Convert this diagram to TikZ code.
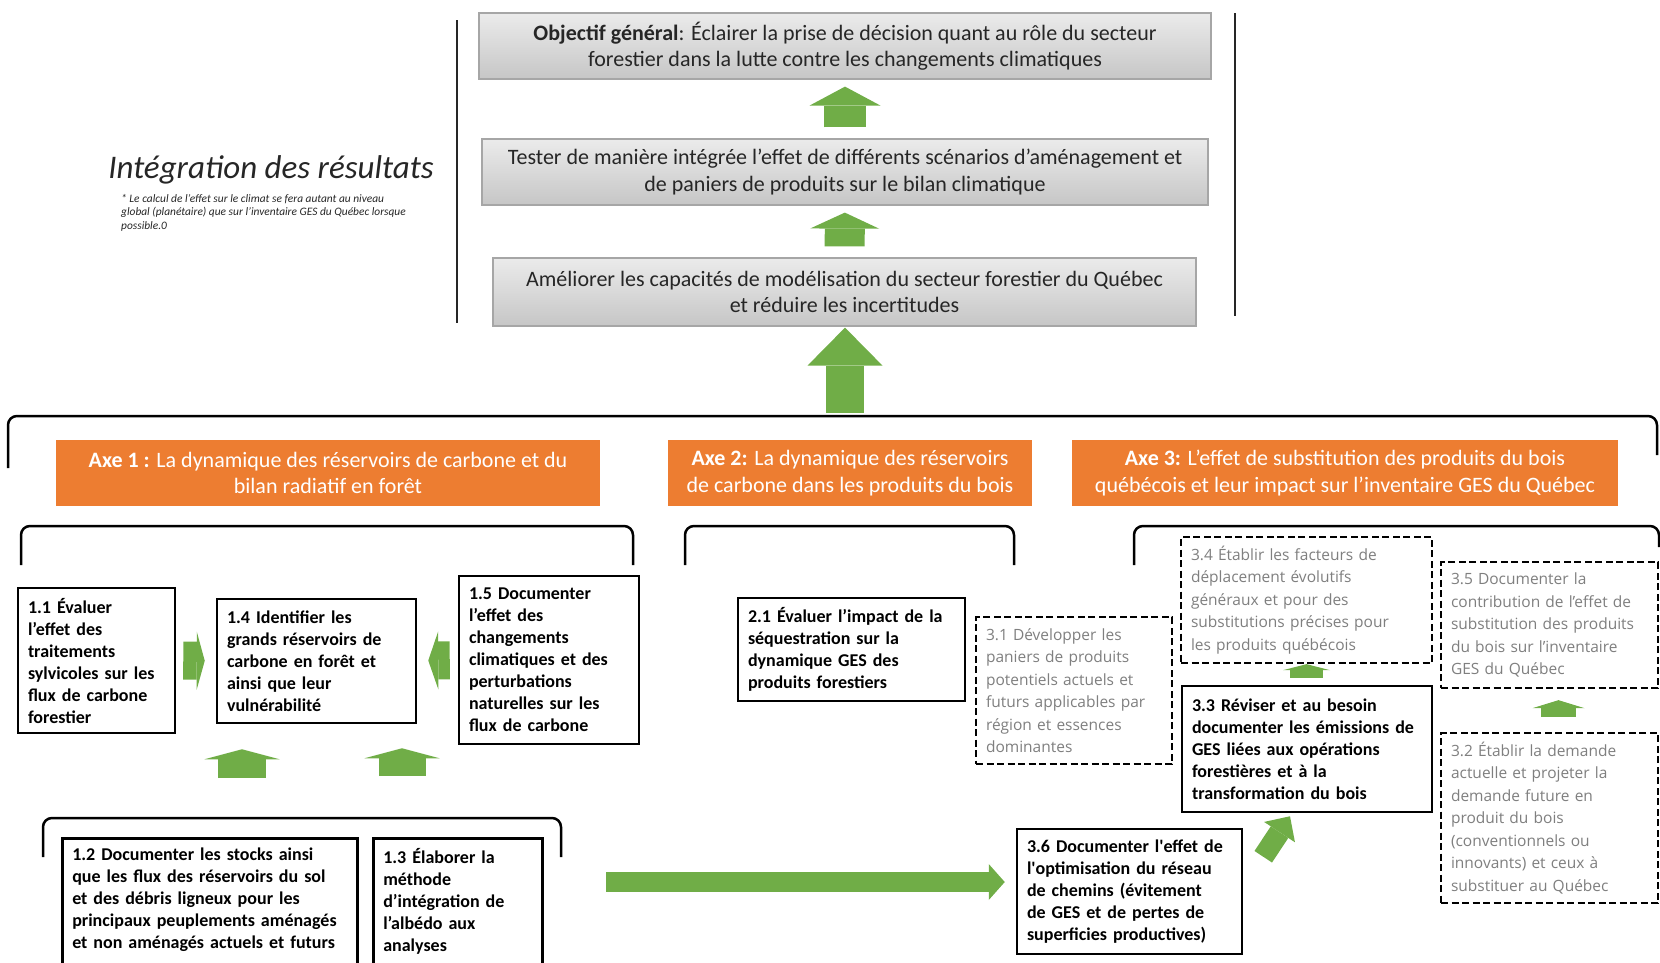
\documentclass[tikz,border=0pt]{standalone}
\usepackage{fontspec}
\setmainfont{Carlito}
\newfontfamily\lightsans{Open Sans}
\usetikzlibrary{arrows.meta}

\definecolor{axeorange}{HTML}{ED7D31}
\definecolor{leafgreen}{HTML}{70AD47}
\definecolor{inktext}{HTML}{262626}
\definecolor{softtext}{HTML}{7F7F7F}
\definecolor{panelfrom}{HTML}{EBEBEB}
\definecolor{panelto}{HTML}{C6C6C6}
\definecolor{panelrule}{HTML}{A6A6A6}

\tikzset{
  goalbox/.style={draw=panelrule, line width=1.2pt, top color=panelfrom, bottom color=panelto,
    text=inktext, align=center, inner sep=0pt, font=\fontsize{22}{26.5}\selectfont},
  axebox/.style={fill=axeorange, text=white, align=center, inner sep=0pt,
    font=\fontsize{22}{26.5}\selectfont},
  taskbox/.style={draw, line width=2.5pt, fill=white, align=left, inner xsep=10pt, inner ysep=4pt,
    font=\bfseries\fontsize{18}{22}\selectfont},
  futurebox/.style={draw, line width=2.3pt, dash pattern=on 7pt off 3.5pt, fill=white, align=left,
    inner xsep=10pt, inner ysep=4pt, text=softtext, font=\lightsans\fontsize{15.5}{22.5}\selectfont},
  bracket/.style={line width=2.5pt, rounded corners=9pt},
  fatarrow/.style n args={3}{leafgreen, line width=#1,
    -{Triangle[line width=0pt, width=#2, length=#3]}},
}

\begin{document}
\begin{tikzpicture}[x=1pt,y=-1pt]
    \useasboundingbox (0,0) rectangle (1660,962);
    \clip (0,0) rectangle (1660,962);

    % Integration of results
    \node[goalbox, minimum width=732pt, minimum height=66pt] (goal) at (845,46)
        {\textbf{Objectif général}: Éclairer la prise de décision quant au rôle du secteur\\forestier dans la lutte contre les changements climatiques};
    \node[goalbox, minimum width=726pt, minimum height=66pt] (test) at (845,172)
        {Tester de manière intégrée l’effet de différents scénarios d’aménagement et\\de paniers de produits sur le bilan climatique};
    \node[goalbox, minimum width=703pt, minimum height=68pt] (model) at (844.5,292)
        {Améliorer les capacités de modélisation du secteur forestier du Québec\\et réduire les incertitudes};
    \draw[line width=1.5pt, inktext] (457,20) -- (457,323);
    \draw[line width=1.5pt, inktext] (1235,13) -- (1235,316);

    \node[anchor=base, text=inktext, font=\itshape\fontsize{33}{40}\selectfont] (titre) at (271,178)
        {Intégration des résultats};
    \node[anchor=north west, align=left, inner sep=0pt, text=inktext,
        font=\itshape\fontsize{11.4}{13.5}\selectfont] (note) at (121,194)
        {* Le calcul de l’effet sur le climat se fera autant au niveau\\global (planétaire) que sur l’inventaire GES du Québec lorsque\\possible.0};

    % Axes
    \draw[bracket] (8,468) -- (8,416) -- (1657,416) -- (1657,455);
    \coordinate (axetop) at (845,416);
    \node[axebox, minimum width=544pt, minimum height=66pt] (axe1) at (328,473)
        {\textbf{Axe 1 :} La dynamique des réservoirs de carbone et du\\bilan radiatif en forêt};
    \node[axebox, minimum width=364pt, minimum height=66pt] (axe2) at (850,473)
        {\textbf{Axe 2:} La dynamique des réservoirs\\de carbone dans les produits du bois};
    \node[axebox, minimum width=546pt, minimum height=66pt] (axe3) at (1345,473)
        {\textbf{Axe 3:} L’effet de substitution des produits du bois\\québécois et leur impact sur l’inventaire GES du Québec};
    \draw[bracket] (21,565) -- (21,526) -- (633,526) -- (633,565);
    \draw[bracket] (685,565) -- (685,526) -- (1014,526) -- (1014,565);
    \draw[bracket] (1134,565) -- (1134,526) -- (1659,526) -- (1659,547);
    \draw[bracket] (43,857) -- (43,818) -- (561,818) -- (561,857);

    % Axe 1 tasks
    \node[taskbox, text width=137pt, minimum height=145pt] (n11) at (96.5,660.5)
        {1.1 Évaluer\\l’effet des\\traitements\\sylvicoles sur les\\flux de carbone\\forestier};
    \node[taskbox, text width=179pt, minimum height=124pt] (n14) at (316.5,661)
        {1.4 Identifier les\\grands réservoirs de\\carbone en forêt et\\ainsi que leur\\vulnérabilité};
    \node[taskbox, text width=160pt, minimum height=168pt] (n15) at (549,660)
        {1.5 Documenter\\l’effet des\\changements\\climatiques et des\\perturbations\\naturelles sur les\\flux de carbone};
    \node[taskbox, anchor=north west, inner ysep=10pt, text width=275pt, text depth=118pt] (n12) at (61,837)
        {1.2 Documenter les stocks ainsi\\que les flux des réservoirs du sol\\et des débris ligneux pour les\\principaux peuplements aménagés\\et non aménagés actuels et futurs};
    \node[taskbox, anchor=north west, inner ysep=10pt, text width=149pt, text depth=118pt] (n13) at (372,837)
        {1.3 Élaborer la\\méthode\\d’intégration de\\l’albédo aux\\analyses};

    % Axe 2 and 3 tasks
    \node[taskbox, text width=207pt, minimum height=103pt] (n21) at (851.5,649.5)
        {2.1 Évaluer l’impact de la\\séquestration sur la\\dynamique GES des\\produits forestiers};
    \node[futurebox, text width=176pt, minimum height=147pt] (n31) at (1074,690.5)
        {3.1 Développer les\\paniers de produits\\potentiels actuels et\\futurs applicables par\\région et essences\\dominantes};
    \node[futurebox, text width=231pt, minimum height=126pt] (n34) at (1306.5,600)
        {3.4 Établir les facteurs de\\déplacement évolutifs\\généraux et pour des\\substitutions précises pour\\les produits québécois};
    \node[taskbox, text width=230pt, minimum height=126pt] (n33) at (1307,749)
        {3.3 Réviser et au besoin\\documenter les émissions de\\GES liées aux opérations\\forestières et à la\\transformation du bois};
    \node[futurebox, text width=197pt, minimum height=126pt] (n35) at (1549.5,625)
        {3.5 Documenter la\\contribution de l’effet de\\substitution des produits\\du bois sur l’inventaire\\GES du Québec};
    \node[futurebox, text width=197pt, minimum height=170pt] (n32) at (1549.5,818)
        {3.2 Établir la demande\\actuelle et projeter la\\demande future en\\produit du bois\\(conventionnels ou\\innovants) et ceux à\\substituer au Québec};
    \node[taskbox, text width=205pt, minimum height=125pt] (n36) at (1129.5,891.5)
        {3.6 Documenter l\textquotesingle effet de\\l\textquotesingle optimisation du réseau\\de chemins (évitement\\de GES et de pertes de\\superficies productives)};

    % Green arrows
    \draw[fatarrow={42pt}{71pt}{19pt}, shorten <=11pt, shorten >=7pt] (test) -- (goal);
    \draw[fatarrow={40pt}{69pt}{16pt}, shorten <=11pt, shorten >=7pt] (model) -- (test);
    \draw[fatarrow={38pt}{75pt}{38pt}, shorten <=3pt, shorten >=1pt] (axetop) -- (axetop |- model.south);
    \draw[fatarrow={38pt}{58pt}{8pt}, shorten <=7pt, shorten >=11pt] (n11) -- (n14);
    \draw[fatarrow={38pt}{58pt}{10pt}, shorten <=8pt, shorten >=11pt] (n15) -- (n14);
    \coordinate (lift1) at (242,818);
    \coordinate (lift2) at (402,818);
    \draw[fatarrow={48pt}{75pt}{10pt}, shorten <=40pt, shorten >=25pt] (lift1) -- (lift1 |- n14.south);
    \draw[fatarrow={47pt}{75pt}{10pt}, shorten <=42pt, shorten >=24pt] (lift2) -- (lift2 |- n14.south);
    \draw[fatarrow={33pt}{47pt}{6pt}, shorten <=7pt] (n34.south |- n33.north) -- (n34.south);
    \draw[fatarrow={35pt}{52pt}{8pt}, shorten <=15pt, shorten >=11pt] ([xshift=9pt]n32.north) -- ([xshift=9pt]n35.south);
    \draw[fatarrow={21pt}{37pt}{19pt}] ([xshift=20pt,yshift=-29pt]n36.north east) -- ([xshift=-17pt,yshift=-3pt]n33.south);
    \coordinate (span) at (606,882);
    \draw[fatarrow={20pt}{36pt}{16pt}, shorten >=11pt] (span) -- (span -| n36.west);
\end{tikzpicture}
\end{document}
